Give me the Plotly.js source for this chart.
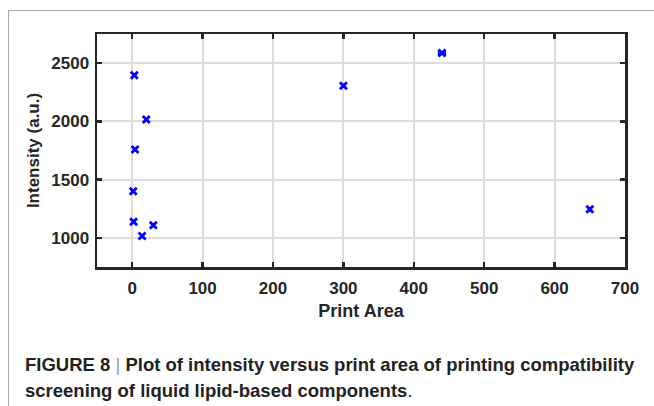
<!DOCTYPE html>
<html>
<head>
<meta charset="utf-8">
<script src="https://cdn.plot.ly/plotly-3.0.1.min.js"></script>
<style>
html,body{margin:0;padding:0;background:#fff;}
#frame{position:absolute;left:8px;top:10px;width:646px;height:396px;border-top:1.5px solid #a8a8a8;border-left:1.5px solid #a8a8a8;pointer-events:none;z-index:5;}
#chart{position:absolute;left:0;top:0;width:654px;height:406px;}
</style>
</head>
<body>
<div id="chart"></div>
<div id="frame"></div>
<script>
const printArea = [3, 20, 4, 1.5, 2, 30, 14, 300, 440, 650];
const intensity = [2395, 2017, 1759, 1400, 1138, 1109, 1017, 2305, 2586, 1245];
const errX = [0, 0, 0, 0, 0, 0, 0, 0, 5, 0];
const errY = [0, 0, 0, 0, 0, 0, 0, 0, 0, 15];
const xTicks = [0, 100, 200, 300, 400, 500, 600, 700];
const yTicks = [1000, 1500, 2000, 2500];
const xTitle = 'Print Area';
const yTitle = 'Intensity (a.u.)';
const captionLine1 = 'FIGURE 8';
const captionLine1b = 'Plot of intensity versus print area of printing compatibility';
const captionLine2 = 'screening of liquid lipid-based components';

const FONT = 'Liberation Sans, Arial, sans-serif';

const trace = {
  x: printArea, y: intensity, type: 'scatter', mode: 'markers',
  marker: {symbol: 'x-thin', size: 7, color: '#0000ff', line: {color: '#0000ff', width: 2.8}},
  error_x: {type: 'data', array: errX, visible: true, color: '#0000ff', thickness: 1.2, width: 2},
  error_y: {type: 'data', array: errY, visible: true, color: '#0000ff', thickness: 1.2, width: 2},
  hoverinfo: 'skip'
};

const axisCommon = {
  showline: true, linecolor: '#262626', linewidth: 2.5, mirror: 'ticks',
  ticks: 'inside', ticklen: 5, tickwidth: 2.5, tickcolor: '#262626',
  showgrid: true, gridcolor: '#dcdcdc', gridwidth: 2, zeroline: false,
  tickfont: {family: FONT, size: 17, color: '#262626', weight: 'bold'}
};

const layout = {
  width: 654, height: 406,
  margin: {l: 97, r: 29, t: 34, b: 139},
  paper_bgcolor: '#ffffff', plot_bgcolor: '#ffffff',
  showlegend: false,
  xaxis: Object.assign({}, axisCommon, {
    range: [-50, 700], tickvals: xTicks, ticktext: xTicks.map(String),
    ticklabelstandoff: 4,
    title: {text: xTitle, standoff: 8, font: {family: FONT, size: 18, color: '#262626', weight: 'bold'}}
  }),
  yaxis: Object.assign({}, axisCommon, {
    range: [750, 2750], tickvals: yTicks, ticktext: yTicks.map(String),
    ticklabelstandoff: 2,
    title: {text: yTitle, standoff: 8, font: {family: FONT, size: 17, color: '#262626', weight: 'bold'}}
  }),
  annotations: [
    {xref: 'paper', yref: 'paper', x: -0.14, y: -0.42, xanchor: 'left', yanchor: 'middle', showarrow: false, align: 'left',
     text: '<b>' + captionLine1 + '</b> <span style="color:#999999">|</span> <b>' + captionLine1b + '</b>',
     font: {family: FONT, size: 18.5, color: '#222222'}},
    {xref: 'paper', yref: 'paper', x: -0.14, y: -0.532, xanchor: 'left', yanchor: 'middle', showarrow: false, align: 'left',
     text: '<b>' + captionLine2 + '</b>.',
     font: {family: FONT, size: 18.5, color: '#222222'}}
  ]
};

Plotly.newPlot('chart', [trace], layout, {staticPlot: true, displayModeBar: false});
</script>
</body>
</html>
